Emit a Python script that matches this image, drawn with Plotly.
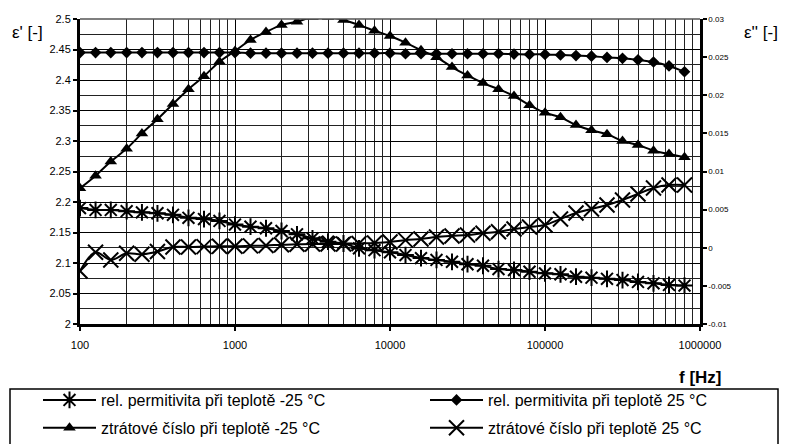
import plotly.graph_objects as go

# ---------------- data ----------------
freq = [100, 126, 158, 200, 251, 316, 398, 501, 631, 794,
        1000, 1259, 1585, 1995, 2512, 3162, 3981, 5012, 6310, 7943,
        10000, 12589, 15849, 19953, 25119, 31623, 39811, 50119, 63096, 79433,
        100000, 125893, 158489, 199526, 251189, 316228, 398107, 501187, 630957, 794328]

eps_m25 = [2.190, 2.187, 2.187, 2.185, 2.183, 2.1815, 2.179, 2.174, 2.172, 2.169,
           2.163, 2.1595, 2.157, 2.1525, 2.147, 2.1405, 2.135, 2.132, 2.124, 2.121,
           2.1175, 2.113, 2.108, 2.105, 2.102, 2.098, 2.0955, 2.090, 2.0885, 2.0857,
           2.083, 2.0815, 2.0775, 2.076, 2.074, 2.072, 2.069, 2.0667, 2.064, 2.063]

eps_25 = [2.445, 2.445, 2.445, 2.445, 2.445, 2.445, 2.445, 2.445, 2.445, 2.445,
          2.445, 2.444, 2.444, 2.444, 2.444, 2.444, 2.444, 2.444, 2.444, 2.444,
          2.444, 2.443, 2.443, 2.443, 2.443, 2.443, 2.443, 2.443, 2.4425, 2.442,
          2.442, 2.441, 2.440, 2.439, 2.437, 2.4355, 2.433, 2.4295, 2.423, 2.4135]

loss_m25 = [0.0078, 0.00945, 0.0113, 0.0130, 0.0150, 0.01685, 0.01885, 0.0208, 0.0225, 0.0244,
            0.0258, 0.02725, 0.0283, 0.0292, 0.02965, 0.03025, 0.03025, 0.02987, 0.0292, 0.02847,
            0.02777, 0.0269, 0.0259, 0.0250, 0.0237, 0.0226, 0.0216, 0.0208, 0.0199, 0.0187,
            0.0177, 0.0171, 0.0161, 0.0154, 0.0149, 0.0140, 0.01348, 0.01273, 0.0123, 0.01186]

loss_25 = [-0.00305, -0.0006, -0.0016, -0.00073, -0.00086, -0.0005, 0.0001, 0.0001, 0.00015, 0.0002,
           0.0002, 0.00025, 0.0003, 0.0004, 0.00045, 0.0005, 0.0005, 0.0005, 0.00056, 0.00062,
           0.00075, 0.0010, 0.00115, 0.0014, 0.00155, 0.00167, 0.0019, 0.0021, 0.00246, 0.00272,
           0.00298, 0.00377, 0.00456, 0.00508, 0.00561, 0.00626, 0.00705, 0.00784, 0.00823, 0.00823]

names = ["rel. permitivita při teplotě -25 °C",
         "rel. permitivita při teplotě 25 °C",
         "ztrátové číslo při teplotě -25 °C",
         "ztrátové číslo při teplotě 25 °C"]

x_tickvals = [100, 1000, 10000, 100000, 1000000]
x_ticktext = ["100", "1000", "10000", "100000", "1000000"]
y2_tickvals = [0.03, 0.025, 0.02, 0.015, 0.01, 0.005, 0, -0.005, -0.01]
y2_ticktext = ["0.03", "0.025", "0.02", "0.015", "0.01", "0.005", "0", "-0.005", "-0.01"]

# ---------------- layout helpers ----------------
W, H = 786, 444
L, R, T, B = 80, 86, 19, 120
PW, PH = W - L - R, H - T - B
FONT = "Liberation Sans, Arial, sans-serif"


def px(xp):
    return (xp - L) / PW


def py(yp):
    return (H - B - yp) / PH


fig = go.Figure()
line = dict(color="black", width=2, shape="spline", smoothing=1.0)

fig.add_trace(go.Scatter(x=freq, y=eps_m25, name=names[0], mode="lines+markers",
                         line=line, legend="legend", legendgroup="a",
                         marker=dict(symbol="asterisk-open", size=14, color="black",
                                     line=dict(color="black", width=2))))
fig.add_trace(go.Scatter(x=freq, y=eps_25, name=names[1], mode="lines+markers",
                         line=line, legend="legend2", legendgroup="b",
                         marker=dict(symbol="diamond", size=9, color="black")))
fig.add_trace(go.Scatter(x=freq, y=loss_m25, name=names[2], mode="lines+markers",
                         line=line, yaxis="y2", legend="legend", legendgroup="c",
                         marker=dict(symbol="triangle-up", size=11, color="black")))
fig.add_trace(go.Scatter(x=freq, y=loss_25, name=names[3], mode="lines+markers",
                         line=line, yaxis="y2", legend="legend2", legendgroup="d",
                         marker=dict(symbol="x-thin-open", size=15, color="black",
                                     line=dict(color="black", width=2))))

fig.update_layout(
    width=W, height=H,
    margin=dict(l=L, r=R, t=T, b=B, pad=0, autoexpand=False),
    paper_bgcolor="white", plot_bgcolor="white",
    font=dict(family=FONT, color="black", size=11),
    xaxis=dict(type="log", range=[2, 6], tickvals=x_tickvals, ticktext=x_ticktext,
               showgrid=True, gridcolor="black", gridwidth=1,
               minor=dict(dtick="D1", showgrid=True, gridcolor="#222", gridwidth=1, ticks=""),
               showline=True, linecolor="black", linewidth=3,
               ticks="outside", ticklen=4, tickcolor="black", tickwidth=1.5,
               ticklabelstandoff=5,
               tickfont=dict(size=11, family=FONT), zeroline=False),
    yaxis=dict(range=[2, 2.5], dtick=0.05, tick0=2,
               showgrid=True, gridcolor="black", gridwidth=1,
               minor=dict(dtick=0.025, tick0=2, showgrid=True, gridcolor="#222", gridwidth=1, ticks=""),
               showline=True, linecolor="black", linewidth=3,
               ticks="outside", ticklen=4, tickcolor="black", tickwidth=1.5,
               tickfont=dict(size=11, family=FONT), zeroline=False),
    yaxis2=dict(overlaying="y", side="right", range=[-0.01, 0.03],
                tickvals=y2_tickvals, ticktext=y2_ticktext,
                showgrid=False, zeroline=False,
                showline=True, linecolor="black", linewidth=2.5,
                ticks="outside", ticklen=4, tickcolor="black", tickwidth=1.5,
                tickfont=dict(size=8, family=FONT)),
    legend=dict(x=px(38), y=py(383), xanchor="left", yanchor="top",
                orientation="v", itemwidth=53, bgcolor="rgba(0,0,0,0)",
                borderwidth=0, font=dict(size=16, family=FONT), tracegroupgap=4),
    legend2=dict(x=px(425), y=py(383), xanchor="left", yanchor="top",
                 orientation="v", itemwidth=53, bgcolor="rgba(0,0,0,0)",
                 borderwidth=0, font=dict(size=16, family=FONT), tracegroupgap=4),
    showlegend=True,
    shapes=[
        dict(type="line", xref="paper", yref="paper", x0=0, x1=1, y0=1, y1=1,
             line=dict(color="#555", width=1.5)),
        dict(type="rect", xref="paper", yref="paper",
             x0=px(10), x1=px(778), y0=py(389), y1=py(460),
             line=dict(color="black", width=1.5), fillcolor="rgba(0,0,0,0)"),
    ],
    annotations=[
        dict(text="ε' [-]", xref="paper", yref="paper", x=px(28), y=py(33),
             xanchor="center", yanchor="middle", showarrow=False,
             font=dict(size=17, family=FONT)),
        dict(text="ε'' [-]", xref="paper", yref="paper", x=px(761), y=py(33),
             xanchor="center", yanchor="middle", showarrow=False,
             font=dict(size=17, family=FONT)),
        dict(text="<b>f [Hz]</b>", xref="paper", yref="paper", x=px(700), y=py(377),
             xanchor="center", yanchor="middle", showarrow=False,
             font=dict(size=17, family=FONT)),
    ],
)

fig.write_html("out.html")
